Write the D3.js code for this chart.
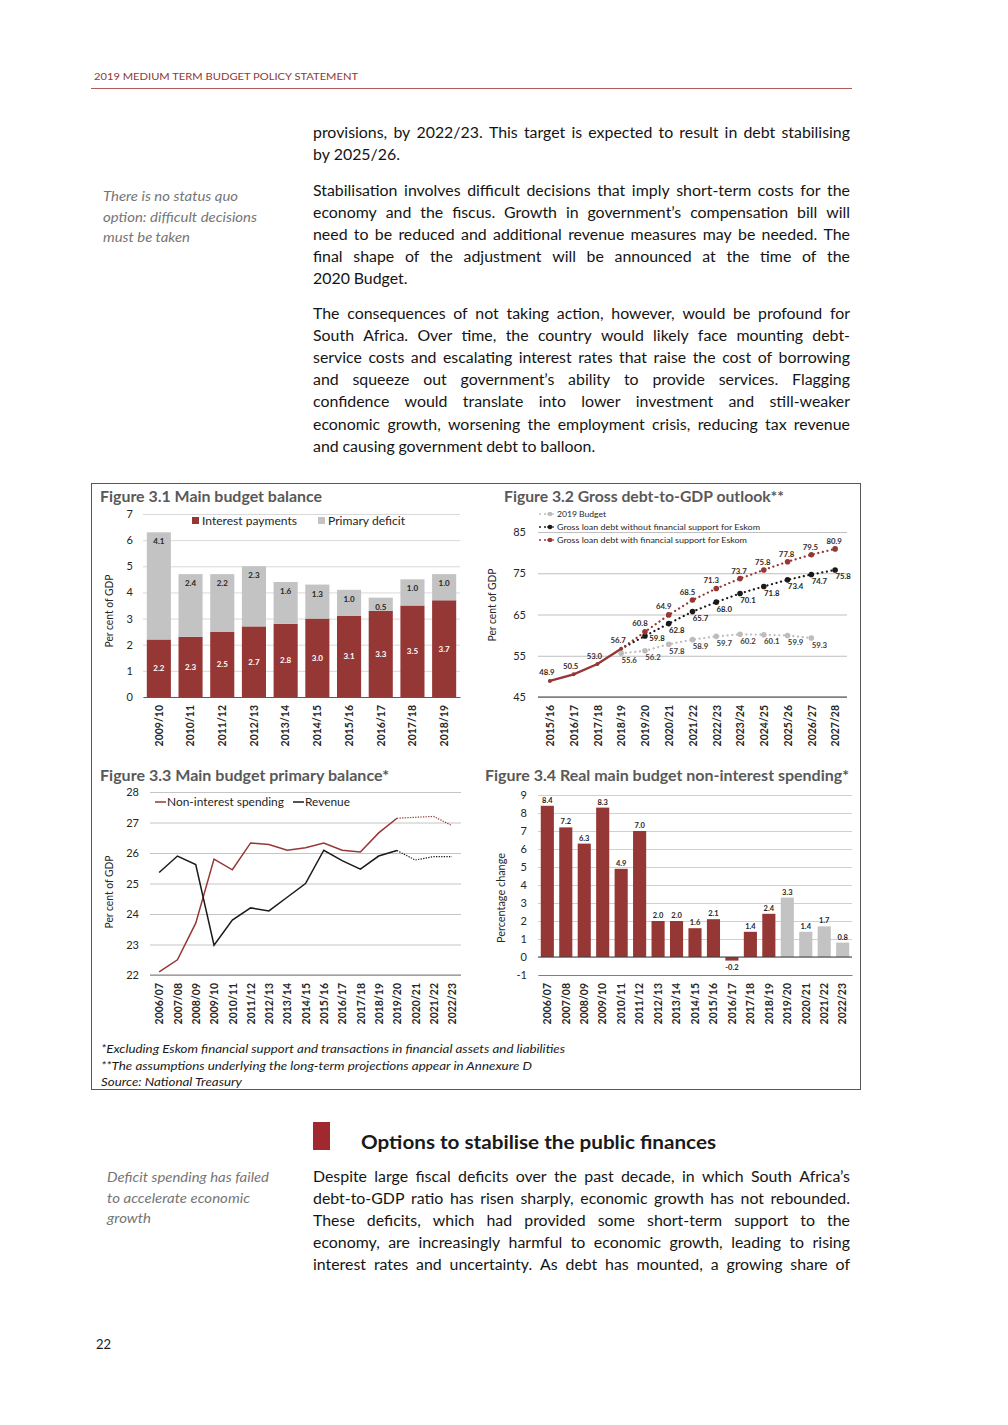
<!DOCTYPE html>
<html><head><meta charset="utf-8">
<script src="https://cdn.jsdelivr.net/npm/d3@7"></script>
<style>
body{margin:0;background:#fff;}
svg{display:block;font-family:Lato,'Open Sans','Noto Sans',sans-serif;}
</style>
</head><body><div id="page"></div>
<script>
// ---------------- DATA ----------------
const fig31Years = ["2009/10","2010/11","2011/12","2012/13","2013/14","2014/15","2015/16","2016/17","2017/18","2018/19"];
const fig31Interest = [2.2,2.3,2.5,2.7,2.8,3.0,3.1,3.3,3.5,3.7];
const fig31Primary = [4.1,2.4,2.2,2.3,1.6,1.3,1.0,0.5,1.0,1.0];
const fig31Ticks = [0,1,2,3,4,5,6,7];
const fig31Legend = ["Interest payments","Primary deficit"];

const fig32Years = ["2015/16","2016/17","2017/18","2018/19","2019/20","2020/21","2021/22","2022/23","2023/24","2024/25","2025/26","2026/27","2027/28"];
const fig32Actual = [48.9,50.5,53.0,56.7,null,null,null,null,null,null,null,null,null];
const fig32Budget2019 = [null,null,null,55.6,56.2,57.8,58.9,59.7,60.2,60.1,59.9,59.3,null];
const fig32WithoutEskom = [null,null,null,56.7,59.8,62.8,65.7,68.0,70.1,71.8,73.4,74.7,75.8];
const fig32WithEskom = [null,null,null,56.7,60.8,64.9,68.5,71.3,73.7,75.8,77.8,79.5,80.9];
const fig32Ticks = [45,55,65,75,85];
const fig32Legend = ["2019 Budget","Gross loan debt without financial support for Eskom","Gross loan debt with financial support for Eskom"];

const fig33Years = ["2006/07","2007/08","2008/09","2009/10","2010/11","2011/12","2012/13","2013/14","2014/15","2015/16","2016/17","2017/18","2018/19","2019/20","2020/21","2021/22","2022/23"];
const fig33Spending = [22.1,22.5,23.7,25.8,25.45,26.33,26.28,26.09,26.17,26.33,26.09,26.03,26.66,27.14,27.17,27.2,26.9];
const fig33Revenue = [25.36,25.9,25.62,22.98,23.8,24.2,24.1,24.55,25.0,26.09,25.75,25.47,25.9,26.08,25.77,25.88,25.88];
const fig33Ticks = [22,23,24,25,26,27,28];
const fig33Legend = ["Non-interest spending","Revenue"];
const fig33ProjectionFrom = "2019/20";

const fig34Years = ["2006/07","2007/08","2008/09","2009/10","2010/11","2011/12","2012/13","2013/14","2014/15","2015/16","2016/17","2017/18","2018/19","2019/20","2020/21","2021/22","2022/23"];
const fig34Values = [8.4,7.2,6.3,8.3,4.9,7.0,2.0,2.0,1.6,2.1,-0.2,1.4,2.4,3.3,1.4,1.7,0.8];
const fig34ProjectionFrom = "2019/20";
const fig34Ticks = [-1,0,1,2,3,4,5,6,7,8,9];

// ---------------- TEXT ----------------
const headerText = "2019 MEDIUM TERM BUDGET POLICY STATEMENT";
const para1 = ["provisions, by 2022/23. This target is expected to result in debt stabilising","by 2025/26."];
const para2 = ["Stabilisation involves difficult decisions that imply short-term costs for the","economy and the fiscus. Growth in government\u2019s compensation bill will","need to be reduced and additional revenue measures may be needed. The","final shape of the adjustment will be announced at the time of the","2020 Budget."];
const para3 = ["The consequences of not taking action, however, would be profound for","South Africa. Over time, the country would likely face mounting debt-","service costs and escalating interest rates that raise the cost of borrowing","and squeeze out government\u2019s ability to provide services. Flagging","confidence would translate into lower investment and still-weaker","economic growth, worsening the employment crisis, reducing tax revenue","and causing government debt to balloon."];
const note1 = ["There is no status quo","option: difficult decisions","must be taken"];
const para4 = ["Despite large fiscal deficits over the past decade, in which South Africa\u2019s","debt-to-GDP ratio has risen sharply, economic growth has not rebounded.","These deficits, which had provided some short-term support to the","economy, are increasingly harmful to economic growth, leading to rising","interest rates and uncertainty. As debt has mounted, a growing share of"];
const note2 = ["Deficit spending has failed","to accelerate economic","growth"];
const footnotes = ["*Excluding Eskom financial support and transactions in financial assets and liabilities","**The assumptions underlying the long-term projections appear in Annexure D","Source: National Treasury"];

// ---------------- DRAW ----------------
const RED = "#953735", GREY = "#c3c3c3", INK = "#262626";
const svg = d3.select('#page').append('svg').attr('width',1008).attr('height',1425);
svg.append('rect').attr('width',1008).attr('height',1425).attr('fill','#fff');
const numFmt = d => (d < 0 ? '-' : '') + Math.abs(d);

function txt(g, s, x, y, o = {}) {
  const t = g.append('text').attr('x', x).attr('y', y).text(s)
    .attr('font-size', o.size || 10).attr('fill', o.fill || INK);
  if (o.weight) t.attr('font-weight', o.weight);
  if (o.italic) t.attr('font-style', 'italic');
  if (o.anchor) t.attr('text-anchor', o.anchor);
  if (o.width) t.attr('textLength', o.width).attr('lengthAdjust', 'spacingAndGlyphs');
  return t;
}

// measure helper
const meas = svg.append('text').attr('x', -1000).attr('y', -1000);
function wordWidth(w, size) {
  meas.attr('font-size', size).text(w);
  return meas.node().getComputedTextLength();
}
function paragraph(g, lines, x, y0, lh, width, size, lastJustified) {
  lines.forEach((line, i) => {
    const justify = i < lines.length - 1 || lastJustified;
    const words = line.split(' ');
    const ws = words.map(w => wordWidth(w, size));
    const sum = d3.sum(ws);
    let gap = size * 0.24;
    if (justify && words.length > 1) gap = (width - sum) / (words.length - 1);
    let sx = 1;
    if (gap < size * 0.2) { // too wide: squeeze glyphs a little
      gap = size * 0.2;
      sx = (width - gap * (words.length - 1)) / sum;
    }
    const t = g.append('text').attr('y', y0 + i * lh).attr('font-size', size).attr('fill', '#141414');
    let cx = x;
    words.forEach((w, j) => {
      const sp = t.append('tspan').attr('x', cx).text(w);
      if (sx !== 1) sp.attr('textLength', ws[j] * sx).attr('lengthAdjust', 'spacingAndGlyphs');
      cx += ws[j] * sx + gap;
    });
  });
}

// header
txt(svg, headerText, 94, 80, {size: 9.5, fill: '#8c3a3a', width: 264});
svg.append('line').attr('x1', 91).attr('x2', 852).attr('y1', 88.5).attr('y2', 88.5).attr('stroke', '#b4585a').attr('stroke-width', 1);

// body
const bodySize = 15.9;
paragraph(svg, para1, 313, 138, 22, 537, bodySize, false);
paragraph(svg, para2, 313, 196, 22, 537, bodySize, false);
paragraph(svg, para3, 313, 319, 22.1, 537, bodySize, false);
paragraph(svg, para4, 313, 1182, 22, 537, bodySize, true);
const n1w = [135, 154, 87], n2w = [162, 143, 44];
note1.forEach((l, i) => txt(svg, l, 103, 201 + i * 20.5, {size: 13.5, italic: true, fill: '#767676', width: n1w[i]}));
note2.forEach((l, i) => txt(svg, l, 107, 1182 + i * 20.5, {size: 13.5, italic: true, fill: '#767676', width: n2w[i]}));

// box
svg.append('rect').attr('x', 91.5).attr('y', 483.5).attr('width', 769).attr('height', 606)
  .attr('fill', 'none').attr('stroke', '#595959').attr('stroke-width', 1);

// section heading
svg.append('rect').attr('x', 313).attr('y', 1122).attr('width', 17).attr('height', 28).attr('fill', '#a0282f');
txt(svg, "Options to stabilise the public finances", 361, 1149, {size: 19, weight: 700, fill: '#1a1a1a', width: 355});
txt(svg, "22", 96, 1349, {size: 13, fill: '#1a1a1a'});

// footnotes
const fnW = [464, 431, 141];
footnotes.forEach((l, i) => txt(svg, l, 101, 1053 + i * 16.5, {size: 11, italic: true, fill: '#1a1a1a', width: fnW[i]}));

function styleYAxis(g, gridColor) {
  g.select('.domain').remove();
  g.selectAll('.tick line').attr('stroke', gridColor).attr('stroke-width', 1);
  g.selectAll('.tick text').attr('fill', INK).attr('font-size', 11).attr('font-family', 'Lato,sans-serif');
}
function styleXAxis(g, domainColor) {
  g.select('.domain').attr('stroke', domainColor).attr('stroke-width', 1);
  g.selectAll('.tick line').remove();
  g.selectAll('.tick text').attr('transform', 'rotate(-90)').attr('text-anchor', 'end')
    .attr('x', -8).attr('y', 0).attr('dy', '0.36em')
    .attr('fill', INK).attr('font-size', 10.5).attr('font-weight', 700).attr('font-family', 'Lato,sans-serif');
}
function yTitle(g, s, x, cy, w) {
  g.append('text').attr('transform', `translate(${x},${cy}) rotate(-90)`).attr('text-anchor', 'middle')
    .attr('font-size', 10.5).attr('fill', INK).text(s).attr('textLength', w).attr('lengthAdjust', 'spacingAndGlyphs');
}

// ---------- Figure 3.1 ----------
{
  const g = svg.append('g');
  const X0 = 143, X1 = 460;
  const x = d3.scaleBand().domain(fig31Years).range([X0, X1]).paddingInner(0.24).paddingOuter(0.12);
  const y = d3.scaleLinear().domain([0, 7]).range([697, 514]);
  txt(g, "Figure 3.1 Main budget balance", 100, 502, {size: 14.5, weight: 700, fill: '#595959', width: 222});
  const ya = g.append('g').attr('transform', `translate(${X0},0)`)
    .call(d3.axisLeft(y).tickValues(fig31Ticks).tickSize(-(X1 - X0)).tickPadding(10).tickFormat(numFmt));
  styleYAxis(ya, '#d9d9d9');
  const rows = fig31Years.map((yr, i) => ({yr, a: fig31Interest[i], b: fig31Primary[i]}));
  g.selectAll('rect.int').data(rows).join('rect').attr('x', d => x(d.yr)).attr('width', x.bandwidth())
    .attr('y', d => y(d.a)).attr('height', d => y(0) - y(d.a)).attr('fill', RED);
  g.selectAll('rect.pri').data(rows).join('rect').attr('x', d => x(d.yr)).attr('width', x.bandwidth())
    .attr('y', d => y(d.a + d.b)).attr('height', d => y(d.a) - y(d.a + d.b)).attr('fill', GREY);
  g.selectAll('text.lint').data(rows).join('text').attr('x', d => x(d.yr) + x.bandwidth() / 2)
    .attr('y', d => y(d.a / 2) + 3).attr('text-anchor', 'middle').attr('font-size', 8).attr('font-weight', 700)
    .attr('fill', '#fff').text(d => d.a.toFixed(1));
  g.selectAll('text.lpri').data(rows).join('text').attr('x', d => x(d.yr) + x.bandwidth() / 2)
    .attr('y', d => y(d.a + d.b) + 12).attr('text-anchor', 'middle').attr('font-size', 8).attr('font-weight', 700)
    .attr('fill', INK).text(d => d.b.toFixed(1));
  const xa = g.append('g').attr('transform', `translate(0,${y(0)})`).call(d3.axisBottom(x).tickSizeOuter(0));
  styleXAxis(xa, '#595959');
  yTitle(g, "Per cent of GDP", 113, 611, 73);
  // legend
  g.append('rect').attr('x', 192).attr('y', 517).attr('width', 7).attr('height', 7).attr('fill', RED);
  txt(g, fig31Legend[0], 202, 524.5, {size: 10.5, width: 95});
  g.append('rect').attr('x', 318).attr('y', 517).attr('width', 7).attr('height', 7).attr('fill', GREY);
  txt(g, fig31Legend[1], 328, 524.5, {size: 10.5, width: 77});
}

// ---------- Figure 3.2 ----------
{
  const g = svg.append('g');
  const X0 = 538, X1 = 847;
  const x = d3.scalePoint().domain(fig32Years).range([X0, X1]).padding(0.5);
  const y = d3.scaleLinear().domain([45, 85]).range([697, 532]);
  txt(g, "Figure 3.2 Gross debt-to-GDP outlook**", 504, 502, {size: 14.5, weight: 700, fill: '#595959', width: 280});
  const ya = g.append('g').attr('transform', `translate(${X0},0)`)
    .call(d3.axisLeft(y).tickValues(fig32Ticks).tickSize(-(X1 - X0)).tickPadding(12).tickFormat(numFmt));
  styleYAxis(ya, '#bfbfbf');
  const xa = g.append('g').attr('transform', `translate(0,${y(45)})`).call(d3.axisBottom(x).tickSizeOuter(0));
  xa.select('.domain').attr('d', `M${X0},0H${X1}`);
  styleXAxis(xa, '#404040');
  yTitle(g, "Per cent of GDP", 496, 605, 73);

  const ser = (arr) => fig32Years.map((yr, i) => ({yr, v: arr[i]})).filter(d => d.v != null);
  const line = d3.line().x(d => x(d.yr)).y(d => y(d.v));
  const dotted = (data, col) => g.append('path').datum(data).attr('d', line).attr('fill', 'none')
    .attr('stroke', col).attr('stroke-width', 2.2).attr('stroke-linecap', 'round').attr('stroke-dasharray', '0.1 4.6');
  const sets = [
    {data: ser(fig32Budget2019), col: '#bdbdbd', skipFirst: false},
    {data: ser(fig32WithoutEskom), col: '#1a1a1a', skipFirst: true},
    {data: ser(fig32WithEskom), col: RED, skipFirst: true}
  ];
  sets.forEach(s => dotted(s.data, s.col));
  const act = ser(fig32Actual);
  g.append('path').datum(act).attr('d', line).attr('fill', 'none').attr('stroke', RED).attr('stroke-width', 2.4);
  sets.forEach(s => {
    const pts = s.skipFirst ? s.data.slice(1) : s.data;
    g.selectAll(null).data(pts).join('circle').attr('cx', d => x(d.yr)).attr('cy', d => y(d.v)).attr('r', 2.8).attr('fill', s.col);
  });
  g.selectAll(null).data(act).join('circle').attr('cx', d => x(d.yr)).attr('cy', d => y(d.v)).attr('r', 2).attr('fill', RED);
  // labels
  const lab = (pts, dx, dy, col) => g.selectAll(null).data(pts).join('text')
    .attr('x', d => x(d.yr) + dx).attr('y', d => y(d.v) + dy + 2.5).attr('text-anchor', 'middle')
    .attr('font-size', 7.8).attr('font-weight', 700).attr('fill', col).text(d => d.v.toFixed(1));
  lab(act, -3, -8, '#3a2a2a');
  lab(sets[0].data, 8, 7, '#404040');
  const wo = sets[1].data.slice(1);
  lab(wo.slice(0, 1), 12, 3, '#262626');
  lab(wo.slice(1), 8, 7, '#262626');
  const we = sets[2].data.slice(1);
  lab(we.slice(0, 4), -5, -8, '#3a2a2a');
  lab(we.slice(4), -1, -7, '#3a2a2a');
  // legend
  const lcols = ['#bdbdbd', '#1a1a1a', RED];
  const lw = [49, 203, 190];
  fig32Legend.forEach((s, i) => {
    const ly = 514 + i * 13;
    g.append('circle').attr('cx', 540).attr('cy', ly).attr('r', 1).attr('fill', lcols[i]);
    g.append('circle').attr('cx', 545).attr('cy', ly).attr('r', 1).attr('fill', lcols[i]);
    g.append('circle').attr('cx', 550).attr('cy', ly).attr('r', 2.3).attr('fill', lcols[i]);
    g.append('line').attr('x1', 547).attr('x2', 554).attr('y1', ly).attr('y2', ly).attr('stroke', lcols[i]).attr('stroke-width', 1.2);
    txt(g, s, 557, ly + 3, {size: 8, width: lw[i]});
  });
}

// ---------- Figure 3.3 ----------
{
  const g = svg.append('g');
  const X0 = 150, X1 = 461;
  const x = d3.scalePoint().domain(fig33Years).range([X0, X1]).padding(0.5);
  const y = d3.scaleLinear().domain([22, 28]).range([975, 792]);
  txt(g, "Figure 3.3 Main budget primary balance*", 100, 781, {size: 14.5, weight: 700, fill: '#595959', width: 289});
  const ya = g.append('g').attr('transform', `translate(${X0},0)`)
    .call(d3.axisLeft(y).tickValues(fig33Ticks).tickSize(-(X1 - X0)).tickPadding(11).tickFormat(numFmt));
  styleYAxis(ya, '#c4c4c4');
  const xa = g.append('g').attr('transform', `translate(0,${y(22)})`).call(d3.axisBottom(x).tickSizeOuter(0));
  xa.select('.domain').attr('d', `M${X0},0H${X1}`);
  styleXAxis(xa, '#7f7f7f');
  yTitle(g, "Per cent of GDP", 113, 892, 73);
  const pIdx = fig33Years.indexOf(fig33ProjectionFrom);
  const line = d3.line().x(d => x(d.yr)).y(d => y(d.v));
  [[fig33Spending, RED], [fig33Revenue, '#1a1a1a']].forEach(([arr, col]) => {
    const pts = fig33Years.map((yr, i) => ({yr, v: arr[i]}));
    g.append('path').datum(pts.slice(0, pIdx + 1)).attr('d', line).attr('fill', 'none').attr('stroke', col).attr('stroke-width', 1.5);
    g.append('path').datum(pts.slice(pIdx)).attr('d', line).attr('fill', 'none').attr('stroke', col).attr('stroke-width', 1.2).attr('stroke-dasharray', '1.3 1.3');
  });
  g.append('line').attr('x1', 155).attr('x2', 166).attr('y1', 802).attr('y2', 802).attr('stroke', RED).attr('stroke-width', 1.5);
  txt(g, fig33Legend[0], 167, 805.5, {size: 10.5, width: 117});
  g.append('line').attr('x1', 293).attr('x2', 304).attr('y1', 802).attr('y2', 802).attr('stroke', '#1a1a1a').attr('stroke-width', 1.5);
  txt(g, fig33Legend[1], 305, 805.5, {size: 10.5, width: 45});
}

// ---------- Figure 3.4 ----------
{
  const g = svg.append('g');
  const X0 = 538, X1 = 852;
  const x = d3.scaleBand().domain(fig34Years).range([X0, X1]).paddingInner(0.29).paddingOuter(0.15);
  const y = d3.scaleLinear().domain([-1, 9]).range([975, 795]);
  txt(g, "Figure 3.4 Real main budget non-interest spending*", 485, 781, {size: 14.5, weight: 700, fill: '#595959', width: 364});
  const ya = g.append('g').attr('transform', `translate(${X0},0)`)
    .call(d3.axisLeft(y).tickValues(fig34Ticks).tickSize(-(X1 - X0)).tickPadding(11).tickFormat(numFmt));
  styleYAxis(ya, '#d0d0d0');
  const pIdx = fig34Years.indexOf(fig34ProjectionFrom);
  const rows = fig34Years.map((yr, i) => ({yr, v: fig34Values[i], proj: i >= pIdx}));
  g.selectAll(null).data(rows).join('rect').attr('x', d => x(d.yr)).attr('width', x.bandwidth())
    .attr('y', d => y(Math.max(0, d.v))).attr('height', d => Math.abs(y(d.v) - y(0)))
    .attr('fill', d => d.proj ? GREY : RED);
  g.selectAll(null).data(rows).join('text').attr('x', d => x(d.yr) + x.bandwidth() / 2)
    .attr('y', d => d.v >= 0 ? y(d.v) - 3 : y(d.v) + 9).attr('text-anchor', 'middle')
    .attr('font-size', 7.5).attr('font-weight', 700).attr('fill', INK).text(d => d.v.toFixed(1));
  g.append('line').attr('x1', X0).attr('x2', X1).attr('y1', y(0)).attr('y2', y(0)).attr('stroke', '#404040');
  const xa = g.append('g').attr('transform', `translate(0,${y(-1)})`).call(d3.axisBottom(x).tickSizeOuter(0));
  styleXAxis(xa, '#7f7f7f');
  yTitle(g, "Percentage change", 505, 898, 90);
}
meas.remove();
</script>
</body></html>
